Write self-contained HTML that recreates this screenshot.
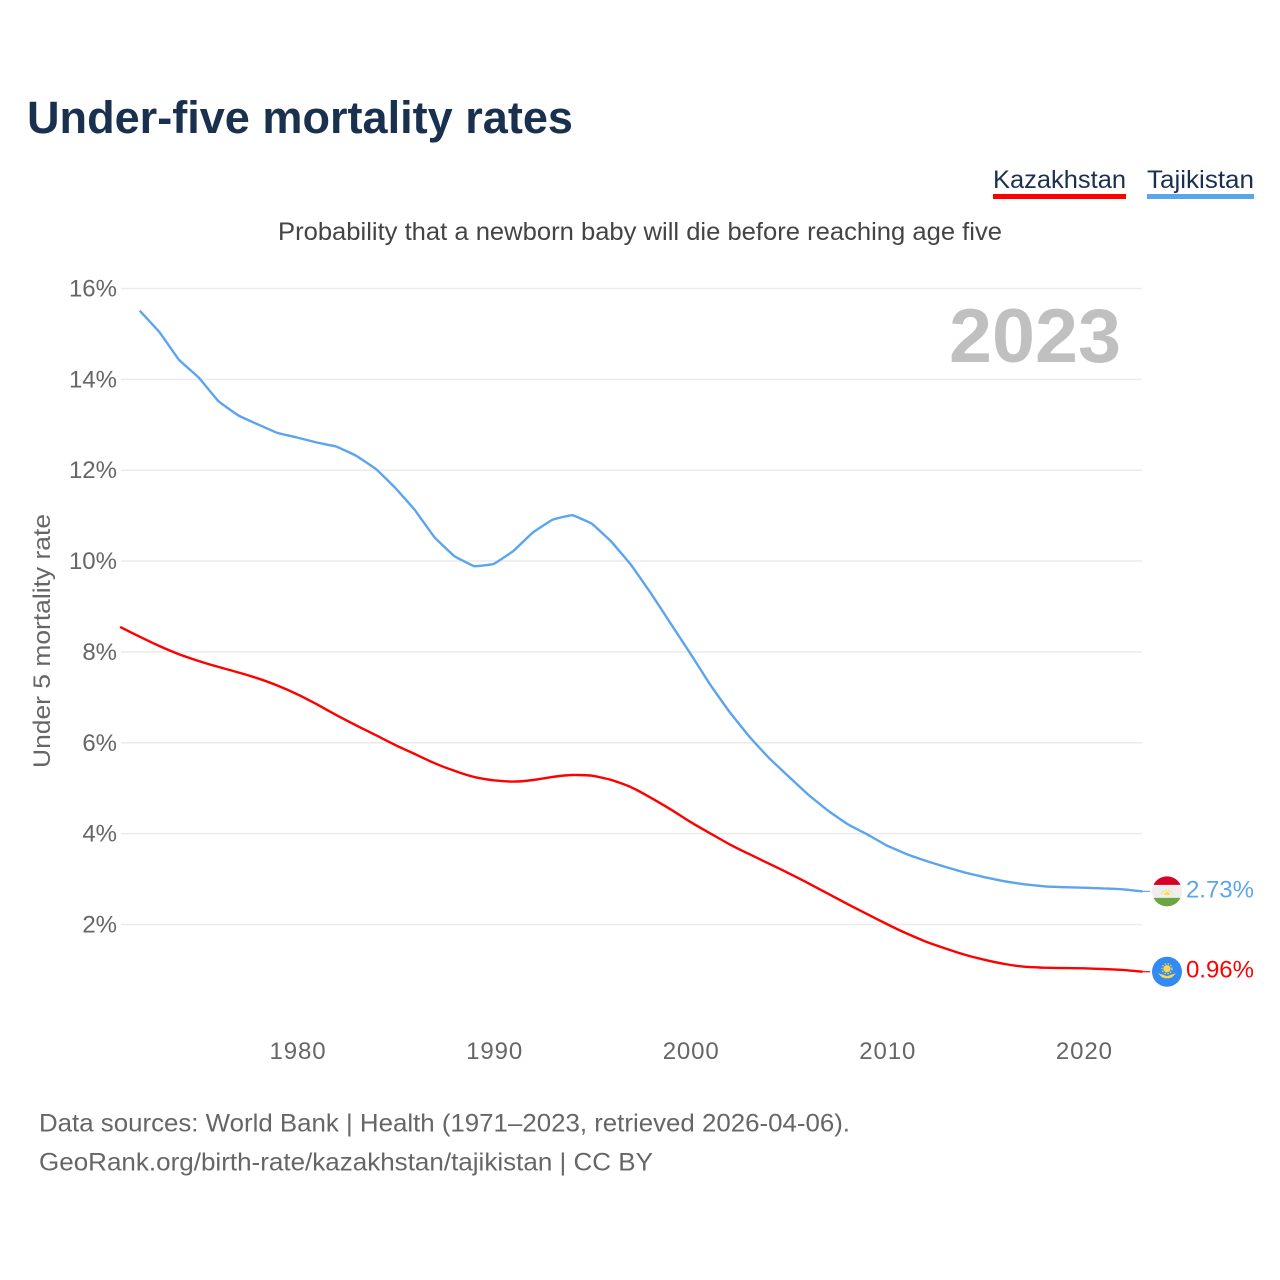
<!DOCTYPE html>
<html lang="en">
<head>
<meta charset="utf-8">
<title>Under-five mortality rates</title>
<style>
html,body{margin:0;padding:0;background:#fff;}
svg{display:block;font-family:"Liberation Sans",sans-serif;}
</style>
</head>
<body>
<svg id="chart" width="1280" height="1280" viewBox="0 0 1280 1280" xmlns="http://www.w3.org/2000/svg">
  <rect width="1280" height="1280" fill="#fff"/>
  <text x="27" y="133" font-size="45" font-weight="700" fill="#19304f" textLength="546" lengthAdjust="spacingAndGlyphs">Under-five mortality rates</text>

  <g>
    <text x="993" y="188" font-size="25" fill="#19304f" textLength="133" lengthAdjust="spacingAndGlyphs">Kazakhstan</text>
    <rect x="993" y="194" width="133" height="5" fill="#ff0000"/>
  </g>
  <g>
    <text x="1147" y="188" font-size="25" fill="#19304f" textLength="107" lengthAdjust="spacingAndGlyphs">Tajikistan</text>
    <rect x="1147" y="194" width="107" height="5" fill="#5ca5ee"/>
  </g>

  <text x="278" y="240" font-size="25" fill="#444" textLength="724" lengthAdjust="spacingAndGlyphs">Probability that a newborn baby will die before reaching age five</text>

  <g id="grid"></g>
  <g id="yticks"></g>
  <g id="xticks"></g>

  <text transform="translate(50,641) rotate(-90)" text-anchor="middle" font-size="24" fill="#666" textLength="254" lengthAdjust="spacingAndGlyphs">Under 5 mortality rate</text>
  <text x="949" y="362" font-size="76" font-weight="700" fill="#c0c0c0" textLength="172" lengthAdjust="spacingAndGlyphs">2023</text>

  <g id="series"></g>
  <g id="endmarks"></g>

  <text x="39" y="1131.5" font-size="25" fill="#666" textLength="811" lengthAdjust="spacingAndGlyphs">Data sources: World Bank | Health (1971–2023, retrieved 2026-04-06).</text>
  <text x="39" y="1170.5" font-size="25" fill="#666" textLength="614" lengthAdjust="spacingAndGlyphs">GeoRank.org/birth-rate/kazakhstan/tajikistan | CC BY</text>
</svg>
<script>
const yTickValues = [2, 4, 6, 8, 10, 12, 14, 16];
const xTickYears = [1980, 1990, 2000, 2010, 2020];
const kazakhstanStartYear = 1971;
const kazakhstanValues = [8.55,8.335,8.13,7.95,7.80,7.67,7.55,7.42,7.26,7.07,6.85,6.61,6.385,6.17,5.95,5.75,5.55,5.385,5.25,5.175,5.145,5.18,5.25,5.29,5.275,5.18,5.02,4.79,4.535,4.26,4.01,3.765,3.55,3.34,3.13,2.91,2.68,2.45,2.23,2.01,1.805,1.62,1.47,1.33,1.22,1.13,1.07,1.05,1.04,1.035,1.02,1.00,0.96];
const tajikistanStartYear = 1972;
const tajikistanValues = [15.51,15.04,14.43,14.04,13.52,13.21,13.01,12.82,12.72,12.61,12.52,12.32,12.03,11.61,11.12,10.52,10.11,9.89,9.935,10.22,10.63,10.91,11.01,10.82,10.42,9.91,9.29,8.63,7.97,7.29,6.68,6.14,5.67,5.26,4.86,4.51,4.21,3.985,3.74,3.55,3.40,3.265,3.14,3.04,2.95,2.885,2.84,2.82,2.81,2.795,2.775,2.73];

const NS = 'http://www.w3.org/2000/svg';
function xScale(year) { return 297 + (year - 1980) * 19.66; }
function yScale(v) { return 924.5 - (v - 2) * 45.43; }
function make(tag, attrs, parent, text) {
  const el = document.createElementNS(NS, tag);
  for (const k in attrs) el.setAttribute(k, attrs[k]);
  if (text !== undefined) el.textContent = text;
  parent.appendChild(el);
  return el;
}

const grid = document.getElementById('grid');
const yticks = document.getElementById('yticks');
yTickValues.forEach(function (v) {
  const line = make('line', { x1: 121, x2: 1142, y1: yScale(v), y2: yScale(v), stroke: '#ebebeb', 'stroke-width': 1.5 }, grid);
  
  
  const label = make('text', { x: 117, y: yScale(v) + 8, 'text-anchor': 'end', 'font-size': 24, fill: '#666' }, yticks, v + '%');
  
  
});

const xticks = document.getElementById('xticks');
xTickYears.forEach(function (y) {
  const label = make('text', { x: xScale(y) + 1, y: 1059, 'text-anchor': 'middle', 'font-size': 24, 'letter-spacing': 0.9, fill: '#666' }, xticks, String(y));
  
  
});

/* Light curve smoothing through the yearly points */
function curvePath(start, values, k) {
  const pts = values.map(function (v, i) { return [xScale(start + i), yScale(v)]; });
  let d = 'M' + pts[0][0].toFixed(1) + ',' + pts[0][1].toFixed(1);
  for (let i = 0; i < pts.length - 1; i++) {
    const p0 = pts[Math.max(i - 1, 0)];
    const p1 = pts[i];
    const p2 = pts[i + 1];
    const p3 = pts[Math.min(i + 2, pts.length - 1)];
    const c1x = p1[0] + (p2[0] - p0[0]) * k;
    const c1y = p1[1] + (p2[1] - p0[1]) * k;
    const c2x = p2[0] - (p3[0] - p1[0]) * k;
    const c2y = p2[1] - (p3[1] - p1[1]) * k;
    d += 'C' + c1x.toFixed(1) + ',' + c1y.toFixed(1) + ' ' + c2x.toFixed(1) + ',' + c2y.toFixed(1) + ' ' + p2[0].toFixed(1) + ',' + p2[1].toFixed(1);
  }
  return d;
}
const series = document.getElementById('series');
const tajikLine = make('path', { d: curvePath(tajikistanStartYear, tajikistanValues, 0.04), fill: 'none', stroke: '#5ca5ee', 'stroke-width': 2.4, 'stroke-linejoin': 'round' }, series);


const kazakhLine = make('path', { d: curvePath(kazakhstanStartYear, kazakhstanValues, 0.1), fill: 'none', stroke: '#ff0000', 'stroke-width': 2.4, 'stroke-linejoin': 'round' }, series);



const endmarks = document.getElementById('endmarks');
const tjLast = tajikistanValues[tajikistanValues.length - 1];
const kzLast = kazakhstanValues[kazakhstanValues.length - 1];
const FLAG_X = 1167;

function connector(v, color, name) {
  const c = make('line', { x1: 1142, x2: 1150, y1: yScale(v), y2: yScale(v), stroke: color, 'stroke-width': 1.2 }, endmarks);
  
  
}
connector(tjLast, '#5ca5ee', 'connector-tajikistan');
connector(kzLast, '#ff0000', 'connector-kazakhstan');

/* Tajikistan flag */
const tjFlag = make('g', { transform: 'translate(' + FLAG_X + ',' + yScale(tjLast) + ')' }, endmarks);


make('circle', { r: 15, fill: '#eeeeee' }, tjFlag);
make('path', { d: 'M-13.5,-6.5 A15,15 0 0 1 13.5,-6.5 Z', fill: '#d80027' }, tjFlag);
make('path', { d: 'M-13.5,6.5 A15,15 0 0 0 13.5,6.5 Z', fill: '#6da544' }, tjFlag);
make('path', { d: 'M-3,3.5 L-3,2 L-1.2,1.2 L0,0 L1.2,1.2 L3,2 L3,3.5 Z', fill: '#ffda44' }, tjFlag);
make('path', { d: 'M-5.5,2.5 A6,6 0 0 1 5.5,2.5', fill: 'none', stroke: '#ffda44', 'stroke-width': 1.2, 'stroke-dasharray': '1.3 1.3' }, tjFlag);

/* Kazakhstan flag */
const kzFlag = make('g', { transform: 'translate(' + FLAG_X + ',' + yScale(kzLast) + ')' }, endmarks);


make('circle', { r: 15, fill: '#338af3' }, kzFlag);
make('circle', { cx: 0, cy: -3, r: 3.6, fill: '#ffda44' }, kzFlag);
make('circle', { cx: 0, cy: -3, r: 5, fill: 'none', stroke: '#ffda44', 'stroke-width': 1.2, 'stroke-dasharray': '1.5 1.5' }, kzFlag);
make('path', { d: 'M-9,1.5 L-4,3 L0,4.5 L4,3 L9,1.5 L5,5.5 L2,6.5 L-2,6.5 L-5,5.5 Z', fill: '#ffda44' }, kzFlag);

const tjLabel = make('text', { x: 1254, y: yScale(tjLast) + 6, 'text-anchor': 'end', 'font-size': 24, fill: '#5ca5ee' }, endmarks, tjLast.toFixed(2) + '%');


const kzLabel = make('text', { x: 1254, y: yScale(kzLast) + 6, 'text-anchor': 'end', 'font-size': 24, fill: '#ff0000' }, endmarks, kzLast.toFixed(2) + '%');


</script>
</body>
</html>
